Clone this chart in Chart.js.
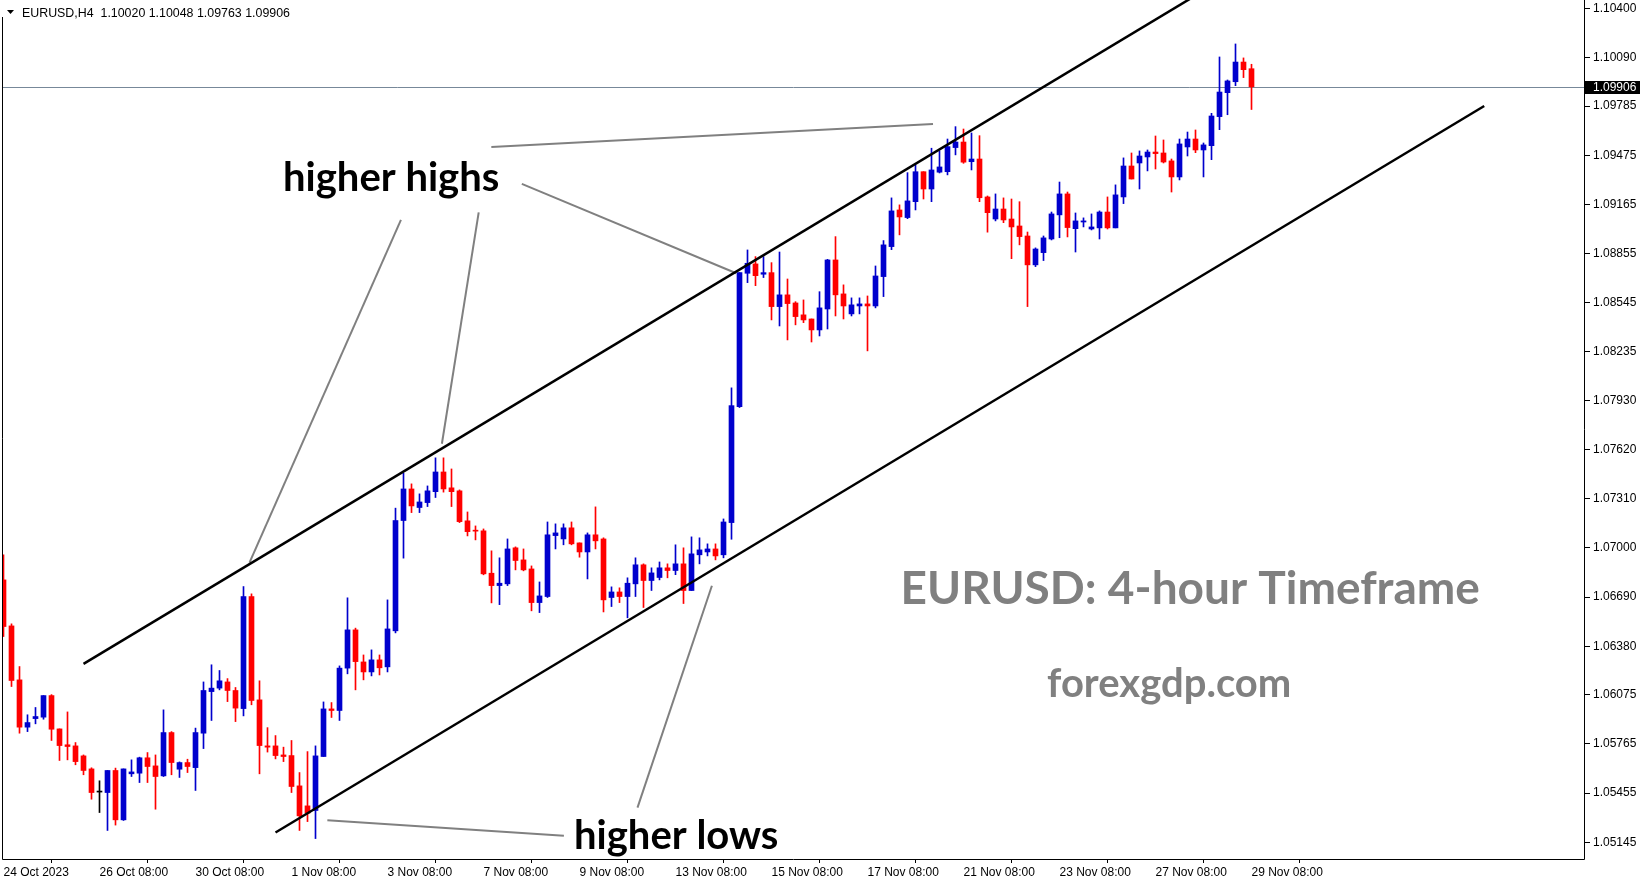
<!DOCTYPE html>
<html>
<head>
<meta charset="utf-8">
<script src="https://cdn.jsdelivr.net/npm/chart.js@4.4.1/dist/chart.umd.min.js"></script>
<style>
  html, body { margin: 0; padding: 0; background: #fff; overflow: hidden; }
  #wrap { width: 1649px; height: 884px; }
</style>
</head>
<body>
<div id="wrap"><canvas id="chart" width="1649" height="884"></canvas></div>
<script>
// EURUSD H4 candles, one per bar, left to right
var opens = [
  1.06799, 1.06509, 1.06169, 1.05871, 1.05925, 1.05934, 1.06070, 1.05860, 1.05760, 1.05753,
  1.05690, 1.05608, 1.05462, 1.05459, 1.05598, 1.05287, 1.05577, 1.05581, 1.05678, 1.05627,
  1.05564, 1.05837, 1.05606, 1.05648, 1.05616, 1.05833, 1.06095, 1.06117, 1.06156, 1.06102,
  1.05988, 1.06694, 1.06043, 1.05753, 1.05753, 1.05696, 1.05692, 1.05501, 1.05375, 1.05346,
  1.05686, 1.05986, 1.05976, 1.06243, 1.06484, 1.06282, 1.06219, 1.06295, 1.06251, 1.06478,
  1.07173, 1.07372, 1.07255, 1.07286, 1.07355, 1.07479, 1.07379, 1.07360, 1.07171, 1.07110,
  1.07108, 1.06841, 1.06763, 1.06774, 1.07001, 1.06925, 1.06868, 1.06656, 1.06694, 1.07078,
  1.07057, 1.07127, 1.07032, 1.06975, 1.07083, 1.07057, 1.06688, 1.06723, 1.06694, 1.06774,
  1.06894, 1.06795, 1.06814, 1.06875, 1.06858, 1.06900, 1.06732, 1.06957, 1.06975, 1.06994,
  1.06957, 1.07160, 1.07891, 1.08731, 1.08790, 1.08725, 1.08735, 1.08521, 1.08595, 1.08544,
  1.08469, 1.08443, 1.08374, 1.08506, 1.08815, 1.08601, 1.08475, 1.08525, 1.08538, 1.08525,
  1.08710, 1.08899, 1.09130, 1.09082, 1.09182, 1.09371, 1.09262, 1.09368, 1.09371, 1.09523,
  1.09558, 1.09434, 1.09451, 1.09212, 1.09073, 1.09136, 1.09073, 1.09029, 1.08966, 1.08784,
  1.08861, 1.08947, 1.09099, 1.09231, 1.09012, 1.09054, 1.09010, 1.09017, 1.09117, 1.09017,
  1.09212, 1.09407, 1.09426, 1.09464, 1.09495, 1.09489, 1.09439, 1.09338, 1.09527, 1.09577,
  1.09508, 1.09535, 1.09718, 1.09869, 1.09938, 1.10062, 1.10020
];
var highs = [
  1.06957, 1.06522, 1.06253, 1.05949, 1.05995, 1.06070, 1.06076, 1.05860, 1.05967, 1.05774,
  1.05696, 1.05615, 1.05533, 1.05598, 1.05613, 1.05608, 1.05665, 1.05682, 1.05711, 1.05696,
  1.05980, 1.05843, 1.05652, 1.05669, 1.05865, 1.06156, 1.06264, 1.06228, 1.06177, 1.06121,
  1.06757, 1.06711, 1.06163, 1.05868, 1.05818, 1.05745, 1.05787, 1.05585, 1.05717, 1.05753,
  1.06030, 1.06026, 1.06257, 1.06686, 1.06495, 1.06326, 1.06358, 1.06326, 1.06673, 1.07251,
  1.07471, 1.07404, 1.07341, 1.07391, 1.07568, 1.07568, 1.07498, 1.07366, 1.07227, 1.07139,
  1.07120, 1.06982, 1.06938, 1.07057, 1.07007, 1.06994, 1.06887, 1.06786, 1.07164, 1.07152,
  1.07152, 1.07164, 1.07032, 1.07095, 1.07259, 1.07064, 1.06755, 1.06749, 1.06812, 1.06938,
  1.06900, 1.06875, 1.06912, 1.06900, 1.07020, 1.07001, 1.07070, 1.07064, 1.07026, 1.07026,
  1.07183, 1.08009, 1.08735, 1.08878, 1.08836, 1.08836, 1.08798, 1.08865, 1.08695, 1.08552,
  1.08563, 1.08443, 1.08615, 1.08819, 1.08962, 1.08658, 1.08576, 1.08576, 1.08588, 1.08777,
  1.08937, 1.09206, 1.09162, 1.09365, 1.09414, 1.09371, 1.09519, 1.09502, 1.09577, 1.09655,
  1.09640, 1.09615, 1.09598, 1.09218, 1.09231, 1.09206, 1.09199, 1.09182, 1.08991, 1.08891,
  1.08966, 1.09117, 1.09306, 1.09243, 1.09111, 1.09080, 1.09105, 1.09124, 1.09212, 1.09288,
  1.09458, 1.09489, 1.09502, 1.09508, 1.09596, 1.09571, 1.09451, 1.09577, 1.09621, 1.09634,
  1.09552, 1.09739, 1.10094, 1.09949, 1.10176, 1.10088, 1.10048
];
var lows = [
  1.06442, 1.06127, 1.05833, 1.05843, 1.05892, 1.05921, 1.05787, 1.05661, 1.05665, 1.05634,
  1.05571, 1.05417, 1.05333, 1.05220, 1.05254, 1.05283, 1.05560, 1.05522, 1.05522, 1.05354,
  1.05560, 1.05571, 1.05554, 1.05585, 1.05472, 1.05736, 1.05913, 1.06106, 1.06032, 1.05906,
  1.05942, 1.06012, 1.05577, 1.05714, 1.05671, 1.05654, 1.05459, 1.05220, 1.05276, 1.05169,
  1.05686, 1.05932, 1.05913, 1.06207, 1.06106, 1.06169, 1.06194, 1.06200, 1.06219, 1.06465,
  1.06936, 1.07223, 1.07223, 1.07261, 1.07318, 1.07352, 1.07261, 1.07160, 1.07076, 1.07051,
  1.06831, 1.06654, 1.06643, 1.06763, 1.06862, 1.06856, 1.06604, 1.06593, 1.06688, 1.06994,
  1.07020, 1.07020, 1.06942, 1.06805, 1.06994, 1.06597, 1.06631, 1.06656, 1.06560, 1.06694,
  1.06625, 1.06732, 1.06799, 1.06812, 1.06832, 1.06650, 1.06732, 1.06900, 1.06950, 1.06925,
  1.06938, 1.07055, 1.07885, 1.08672, 1.08653, 1.08704, 1.08437, 1.08399, 1.08311, 1.08406,
  1.08420, 1.08298, 1.08336, 1.08380, 1.08462, 1.08443, 1.08462, 1.08475, 1.08242, 1.08513,
  1.08584, 1.08880, 1.08973, 1.09075, 1.09130, 1.09199, 1.09182, 1.09363, 1.09351, 1.09477,
  1.09424, 1.09382, 1.09182, 1.08990, 1.09061, 1.09050, 1.08823, 1.08910, 1.08521, 1.08773,
  1.08811, 1.08941, 1.08955, 1.08960, 1.08865, 1.09023, 1.09004, 1.08947, 1.09010, 1.09017,
  1.09170, 1.09325, 1.09262, 1.09376, 1.09388, 1.09426, 1.09243, 1.09319, 1.09470, 1.09491,
  1.09338, 1.09447, 1.09636, 1.09730, 1.09913, 1.09964, 1.09763
];
var closes = [
  1.06505, 1.06165, 1.05871, 1.05900, 1.05938, 1.06070, 1.05858, 1.05755, 1.05749, 1.05654,
  1.05598, 1.05459, 1.05462, 1.05598, 1.05287, 1.05608, 1.05589, 1.05678, 1.05623, 1.05560,
  1.05837, 1.05648, 1.05648, 1.05623, 1.05837, 1.06102, 1.06117, 1.06163, 1.06102, 1.05991,
  1.06694, 1.06039, 1.05755, 1.05745, 1.05692, 1.05686, 1.05497, 1.05312, 1.05329, 1.05690,
  1.05986, 1.05976, 1.06243, 1.06484, 1.06284, 1.06219, 1.06295, 1.06245, 1.06490, 1.07173,
  1.07372, 1.07265, 1.07290, 1.07360, 1.07479, 1.07372, 1.07355, 1.07166, 1.07103, 1.07106,
  1.06837, 1.06763, 1.06778, 1.06994, 1.06921, 1.06862, 1.06656, 1.06698, 1.07083, 1.07095,
  1.07127, 1.07026, 1.06975, 1.07083, 1.07045, 1.06673, 1.06723, 1.06694, 1.06778, 1.06894,
  1.06795, 1.06843, 1.06875, 1.06858, 1.06900, 1.06732, 1.06963, 1.06988, 1.06994, 1.06950,
  1.07164, 1.07897, 1.08735, 1.08794, 1.08716, 1.08735, 1.08521, 1.08595, 1.08540, 1.08458,
  1.08437, 1.08374, 1.08513, 1.08815, 1.08595, 1.08525, 1.08532, 1.08538, 1.08525, 1.08714,
  1.08910, 1.09124, 1.09086, 1.09187, 1.09371, 1.09262, 1.09382, 1.09401, 1.09529, 1.09558,
  1.09431, 1.09451, 1.09207, 1.09113, 1.09136, 1.09067, 1.09023, 1.08962, 1.08784, 1.08884,
  1.08954, 1.09105, 1.09231, 1.09019, 1.09061, 1.09061, 1.09023, 1.09117, 1.09017, 1.09225,
  1.09407, 1.09325, 1.09470, 1.09495, 1.09485, 1.09432, 1.09338, 1.09546, 1.09577, 1.09508,
  1.09540, 1.09722, 1.09873, 1.09943, 1.10062, 1.10014, 1.09906
];

var xTickIdx = [0, 12, 24, 36, 48, 60, 72, 84, 96, 108, 120, 132, 144, 156];
var xTickLabels = ['24 Oct 2023', '26 Oct 08:00', '30 Oct 08:00', '1 Nov 08:00', '3 Nov 08:00',
  '7 Nov 08:00', '9 Nov 08:00', '13 Nov 08:00', '15 Nov 08:00', '17 Nov 08:00', '21 Nov 08:00',
  '23 Nov 08:00', '27 Nov 08:00', '29 Nov 08:00'];
var yTickLabels = ['1.10400', '1.10090', '1.09785', '1.09475', '1.09165', '1.08855', '1.08545',
  '1.08235', '1.07930', '1.07620', '1.07310', '1.07000', '1.06690', '1.06380', '1.06075',
  '1.05765', '1.05455', '1.05145'];

// drawn objects, in (bar index, price)
var channelUpper = [{x: 10.0, y: 1.06270}, {x: 149.0, y: 1.10481}];
var channelLower = [{x: 34.0, y: 1.05207}, {x: 185.09, y: 1.09785}];
var pointers = [
  [{x: 49.68, y: 1.09068}, {x: 30.75, y: 1.06908}],
  [{x: 59.40, y: 1.09115}, {x: 54.80, y: 1.07657}],
  [{x: 64.79, y: 1.09294}, {x: 91.59, y: 1.08731}],
  [{x: 60.98, y: 1.09526}, {x: 116.19, y: 1.09671}],
  [{x: 40.48, y: 1.05285}, {x: 70.05, y: 1.05186}],
  [{x: 88.55, y: 1.06762}, {x: 79.25, y: 1.05364}]
];
var notes = [
  {text: 'higher highs', x: 48.46, y: 1.09250, color: '#000', size: 40},
  {text: 'higher lows', x: 84.09, y: 1.05104, color: '#000', size: 40},
  {text: 'EURUSD: 4-hour Timeframe', x: 148.34, y: 1.06648, color: '#808080', size: 46},
  {text: 'forexgdp.com', x: 145.71, y: 1.06062, color: '#808080', size: 40}
];

var BLUE = '#0000CD', RED = '#FF0000';
var candleColors = opens.map(function (o, i) {
  if (closes[i] > o) return BLUE;
  if (closes[i] < o) return RED;
  return '#000';
});

var lineSets = [];
lineSets.push({type: 'line', data: channelUpper, borderColor: '#000', borderWidth: 2.5, pointRadius: 0, order: 0});
lineSets.push({type: 'line', data: channelLower, borderColor: '#000', borderWidth: 2.5, pointRadius: 0, order: 0});
pointers.forEach(function (p) {
  lineSets.push({type: 'line', data: p, borderColor: '#808080', borderWidth: 2, pointRadius: 0, order: 0});
});

var chartFrame = {
  id: 'chartFrame',
  beforeDatasetsDraw: function (chart) {
    var ctx = chart.ctx, a = chart.chartArea;
    var y = Math.round(chart.scales.y.getPixelForValue(closes[closes.length - 1])) + 0.5;
    ctx.save();
    ctx.strokeStyle = '#778899';
    ctx.lineWidth = 1;
    ctx.beginPath();
    ctx.moveTo(a.left, y);
    ctx.lineTo(a.right, y);
    ctx.stroke();
    ctx.restore();
  },
  afterDraw: function (chart) {
    var ctx = chart.ctx, a = chart.chartArea;
    var xs = chart.scales.x, ys = chart.scales.y;
    ctx.save();
    // frame
    ctx.strokeStyle = '#000';
    ctx.lineWidth = 1;
    ctx.beginPath();
    ctx.moveTo(2.5, 17);
    ctx.lineTo(2.5, 859.5);
    ctx.lineTo(1584.5, 859.5);
    ctx.lineTo(1584.5, 0);
    ctx.stroke();

    // notes
    notes.forEach(function (n) {
      ctx.font = 'bold ' + n.size + 'px Lato';
      ctx.fillStyle = n.color;
      ctx.textAlign = 'center';
      ctx.textBaseline = 'alphabetic';
      ctx.fillText(n.text, xs.getPixelForValue(n.x), ys.getPixelForValue(n.y));
    });

    // symbol header
    ctx.fillStyle = '#000';
    ctx.beginPath();
    ctx.moveTo(7, 10);
    ctx.lineTo(14, 10);
    ctx.lineTo(10.5, 14);
    ctx.closePath();
    ctx.fill();
    var last = closes.length - 1;
    ctx.font = '12.4px "Liberation Sans"';
    ctx.textAlign = 'left';
    ctx.textBaseline = 'alphabetic';
    ctx.fillText('EURUSD,H4  ' + opens[last].toFixed(5) + ' ' + highs[last].toFixed(5) + ' ' +
      lows[last].toFixed(5) + ' ' + closes[last].toFixed(5), 22, 16.5);

    // bid price box
    var y = Math.round(ys.getPixelForValue(closes[last]));
    ctx.font = '12px "Liberation Sans"';
    ctx.fillStyle = '#000';
    ctx.fillRect(a.right - 1, y - 6, 56, 13);
    ctx.fillStyle = '#fff';
    ctx.textBaseline = 'middle';
    ctx.fillText(closes[last].toFixed(5), a.right + 8, y + 0.5);
    ctx.restore();
  }
};

new Chart(document.getElementById('chart').getContext('2d'), {
  type: 'bar',
  data: {
    datasets: lineSets.concat([{
      label: 'body',
      data: opens.map(function (o, i) { return {x: i, y: [o, closes[i]]}; }),
      backgroundColor: candleColors,
      barThickness: 5,
      minBarLength: 1,
      grouped: false,
      order: 1
    }, {
      label: 'wick',
      data: lows.map(function (l, i) { return {x: i, y: [l, highs[i]]}; }),
      backgroundColor: candleColors,
      barThickness: 1,
      grouped: false,
      order: 2
    }])
  },
  options: {
    responsive: false,
    animation: false,
    events: [],
    layout: {autoPadding: false, padding: {left: 2, top: 0, right: 0, bottom: 0}},
    plugins: {
      legend: {display: false},
      tooltip: {enabled: false}
    },
    scales: {
      x: {
        type: 'linear',
        min: -0.1875,
        max: 197.6875,
        offset: false,
        afterBuildTicks: function (s) {
          s.ticks = xTickIdx.map(function (v) { return {value: v}; });
        },
        afterFit: function (s) { s.height = 25; s.paddingTop = 0; s.paddingBottom = 0; s.paddingLeft = 0; s.paddingRight = 0; },
        ticks: {
          autoSkip: false,
          maxRotation: 0,
          align: 'start',
          padding: 2,
          color: '#000',
          font: {family: 'Liberation Sans', size: 12},
          callback: function (v, i) { return xTickLabels[i]; }
        },
        grid: {drawOnChartArea: false, drawTicks: true, tickLength: 4, color: '#000'},
        border: {display: false}
      },
      y: {
        position: 'right',
        min: 1.0504024,
        max: 1.1045294,
        afterBuildTicks: function (s) {
          s.ticks = yTickLabels.map(function (v) { return {value: parseFloat(v)}; });
        },
        afterFit: function (s) { s.width = 64; s.paddingTop = 0; s.paddingBottom = 0; s.paddingLeft = 0; s.paddingRight = 0; },
        ticks: {
          autoSkip: false,
          padding: 3,
          color: '#000',
          font: {family: 'Liberation Sans', size: 12},
          callback: function (v, i) { return yTickLabels[i]; }
        },
        grid: {drawOnChartArea: false, drawTicks: true, tickLength: 5, color: '#000'},
        border: {display: false}
      }
    }
  },
  plugins: [chartFrame]
});
</script>
</body>
</html>
